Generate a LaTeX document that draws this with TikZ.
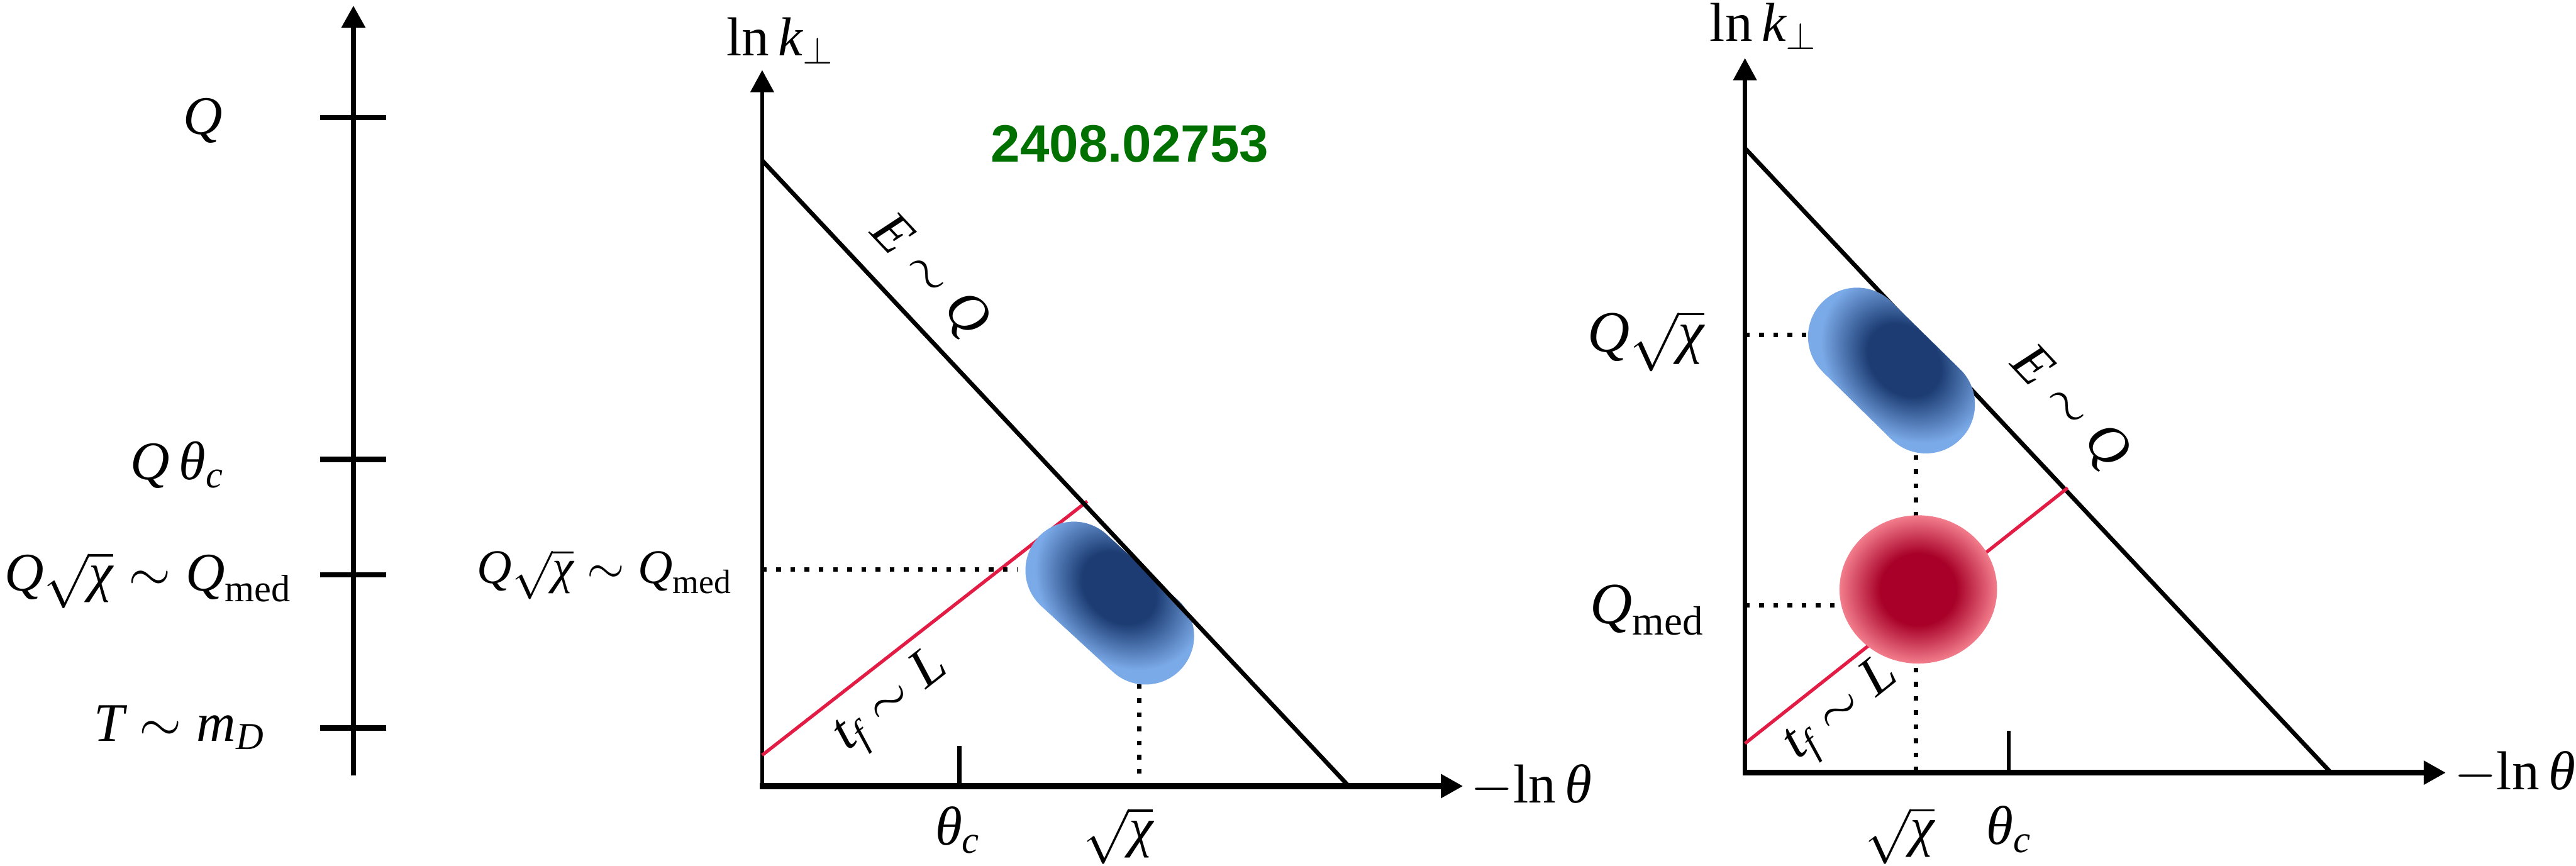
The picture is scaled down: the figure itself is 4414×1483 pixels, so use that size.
\RequirePackage{fix-cm}
\documentclass[tikz,border=0pt]{standalone}
\usepackage{amsmath}
\usepackage{fontspec}
\setmainfont{Liberation Serif}
\newfontfamily\idfont{Liberation Sans}
\usetikzlibrary{arrows.meta}
\definecolor{redline}{RGB}{226,28,68}
\definecolor{bdark}{RGB}{28,60,115}
\definecolor{blight}{RGB}{123,170,232}
\definecolor{rdark}{RGB}{168,0,40}
\definecolor{rlight}{RGB}{242,125,140}
\definecolor{idgreen}{RGB}{0,112,0}
\pgfdeclareradialshading{blueblob}{\pgfpoint{0bp}{0bp}}{color(0bp)=(bdark); color(10.5bp)=(bdark); color(24bp)=(blight); color(50bp)=(blight)}
\pgfdeclareradialshading{redball}{\pgfpoint{0bp}{0bp}}{color(0bp)=(rdark); color(12bp)=(rdark); color(25bp)=(rlight); color(50bp)=(rlight)}
\newcommand{\iQ}{\textit{Q}}
\newcommand{\ichi}{\textit{χ}}
\newcommand{\ith}{\textit{θ}}
\begin{document}
\begin{tikzpicture}[x=0.01cm,y=-0.01cm,
  lbl/.style={inner sep=0pt, outer sep=0pt},
  bigl/.style={lbl, font=\fontsize{28.5}{34}\selectfont},
  leftl/.style={lbl, font=\fontsize{26.5}{32}\selectfont},
  axl/.style={lbl, font=\fontsize{26.7}{32}\selectfont},
  medl/.style={lbl, font=\fontsize{23.5}{28}\selectfont},
  tip/.style={-{Triangle[length=10.8pt,width=11.1pt]}},
  yax/.style={line width=2pt, tip},
  xax/.style={line width=2.85pt, tip},
  diag/.style={line width=2.1pt},
  redl/.style={line width=1.65pt, redline},
  dotline/.style={line width=2.3pt, dash pattern=on 2.3pt off 4.6pt},
  tick/.style={line width=2pt}
]
\useasboundingbox (0,0) rectangle (4414,1483);

% ---------------- left scale ----------------
\coordinate (L0) at (605.6,1329);
\coordinate (L1) at (605.6,9.5);
\draw[line width=2.56pt, tip] (L0) -- (L1);
\foreach \yy in {201.5,787,985,1247}
  \draw[line width=2.7pt] (548,\yy) -- (662,\yy);
\node[leftl, anchor=base west] (lq) at (314,230) {$\iQ$};
\node[leftl, anchor=base west] (lqth) at (224,822) {$\iQ\,\ith_{\textit{c}}$};
\node[leftl, anchor=base west] (lqchi) at (8,1012) {$\iQ\sqrt{\ichi}\sim\iQ_{\text{med}}$};
\node[leftl, anchor=base west] (ltm) at (161,1270) {$\textit{T}\sim\textit{m}_{\textit{D}}$};

% ---------------- middle plot ----------------
\coordinate (O1) at (1306,1347);
\coordinate (O1x) at (1302,1347);
\coordinate (Y1) at (1306,120);
\coordinate (X1) at (2507,1347);
\coordinate (D1a) at (1306,275);
\coordinate (D1b) at (2311,1347);
\coordinate (R1a) at (1306,1294);
\coordinate (R1b) at (1863,859);
\coordinate (H1a) at (1306,976);
\coordinate (H1b) at (1744,976);
\coordinate (V1a) at (1952,1172);
\coordinate (V1b) at (1952,1356);
\coordinate (T1a) at (1644,1278);
\coordinate (T1b) at (1644,1347);

\draw[yax] (O1) -- (Y1);
\draw[xax] (O1x) -- (X1);
\draw[tick] (T1a) -- (T1b);
\draw[redl] (R1a) -- (R1b);
\draw[dotline] (H1a) -- (H1b);
\draw[dotline] (V1a) -- (V1b);
\begin{scope}[transform canvas={shift={(1901.5,1033.5)},rotate=-42.6}]
  \fill[blight, rounded corners=0.83cm] (-166.5,-83) rectangle (166.5,83);
  \begin{scope}
    \clip[rounded corners=0.83cm] (-166.5,-83) rectangle (166.5,83);
    \shade[shading=blueblob] (-6,-30) ellipse [x radius=165, y radius=130];
  \end{scope}
\end{scope}
\draw[diag] (D1a) -- (D1b);

\node[axl, anchor=base west] (k1) at (1245,95) {$\text{ln}\,\textit{k}_{\perp}$};
\node[medl, anchor=base east] (qm1) at (1254,1000) {$\iQ\sqrt{\ichi}\sim\iQ_{\text{med}}$};
\node[axl, anchor=base] (thc1) at (1641,1448) {$\ith_{\textit{c}}$};
\node[axl, anchor=base] (sx1) at (1916,1450) {$\sqrt{\ichi}$};
\node[axl, anchor=west] (lt1) at (2520,1347) {$-\text{ln}\,\ith$};
\node[axl, rotate=-46.7] (eq1) at (1592,474) {$\textit{E}\sim\iQ$};
\node[axl, rotate=38] (tf1) at (1530,1205) {$\textit{t}_{\textit{f}}\sim\textit{L}$};
\node[lbl, font=\idfont\bfseries\fontsize{25.6}{30}\selectfont, text=idgreen] (id) at (1936,247) {2408.02753};

% ---------------- right plot ----------------
\coordinate (O2) at (2990,1324);
\coordinate (O2x) at (2986,1324);
\coordinate (Y2) at (2990,99.5);
\coordinate (X2) at (4191,1324);
\coordinate (D2a) at (2990,254);
\coordinate (D2b) at (3994,1324);
\coordinate (R2a) at (2990,1274);
\coordinate (R2b) at (3543,836);
\coordinate (H2a) at (2990,574);
\coordinate (H2b) at (3095,574);
\coordinate (H3a) at (2990,1037);
\coordinate (H3b) at (3148,1037);
\coordinate (V2a) at (3283,780);
\coordinate (V2b) at (3283,1332);
\coordinate (T2a) at (3442,1252);
\coordinate (T2b) at (3442,1324);

\draw[yax] (O2) -- (Y2);
\draw[xax] (O2x) -- (X2);
\draw[tick] (T2a) -- (T2b);
\draw[diag] (D2a) -- (D2b);
\draw[redl] (R2a) -- (R2b);
\draw[dotline] (H2a) -- (H2b);
\draw[dotline] (H3a) -- (H3b);
\draw[dotline] (V2a) -- (V2b);
\begin{scope}[transform canvas={shift={(3241,635)},rotate=-44.5}]
  \fill[blight, rounded corners=0.84cm] (-166.7,-84) rectangle (166.7,84);
  \begin{scope}
    \clip[rounded corners=0.84cm] (-166.7,-84) rectangle (166.7,84);
    \shade[shading=blueblob] (3,-28) ellipse [x radius=165, y radius=130];
  \end{scope}
\end{scope}
\shade[shading=redball] (3287,1010) ellipse [x radius=135, y radius=127];

\node[axl, anchor=base west] (k2) at (2930,71) {$\text{ln}\,\textit{k}_{\perp}$};
\node[bigl, anchor=base east] (qs2) at (2920,603) {$\iQ\sqrt{\ichi}$};
\node[bigl, anchor=base east] (qm2) at (2920,1068) {$\iQ_{\text{med}}$};
\node[axl, anchor=base] (sx2) at (3255,1449) {$\sqrt{\ichi}$};
\node[axl, anchor=base] (thc2) at (3442,1447) {$\ith_{\textit{c}}$};
\node[axl, anchor=west] (lt2) at (4205,1324) {$-\text{ln}\,\ith$};
\node[axl, rotate=-46.8] (eq2) at (3545,700) {$\textit{E}\sim\iQ$};
\node[axl, rotate=38.4] (tf2) at (3158,1220) {$\textit{t}_{\textit{f}}\sim\textit{L}$};
\end{tikzpicture}
\end{document}
